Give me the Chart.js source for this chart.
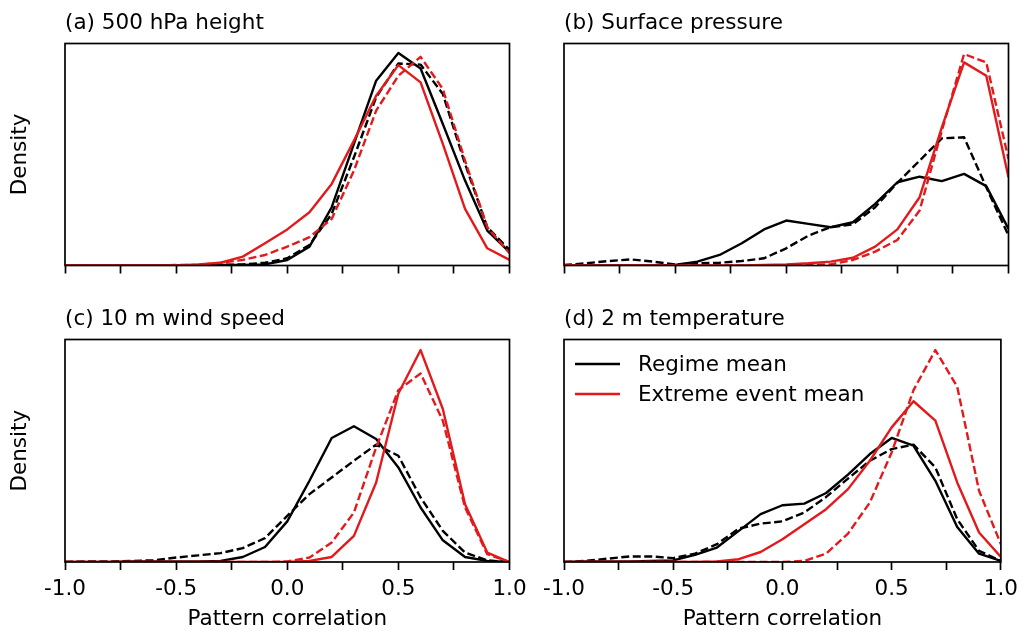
<!DOCTYPE html>
<html>
<head>
<meta charset="utf-8">
<script src="https://cdn.jsdelivr.net/npm/chart.js@4/dist/chart.umd.min.js"></script>
<style>
body { margin: 0; background: #fff; }
#wrap { position: relative; width: 1025px; height: 633px; }
#wrap canvas { position: absolute; left: 0; top: 0; }
</style>
</head>
<body>
<div id="wrap">
  <canvas id="panelA" width="1025" height="633"></canvas>
  <canvas id="panelB" width="1025" height="633"></canvas>
  <canvas id="panelC" width="1025" height="633"></canvas>
  <canvas id="panelD" width="1025" height="633"></canvas>
</div>
<script>
// pattern correlation bins
const corr = [-1.0, -0.9, -0.8, -0.7, -0.6, -0.5, -0.4, -0.3, -0.2, -0.1, 0.0,
              0.1, 0.2, 0.3, 0.4, 0.5, 0.6, 0.7, 0.8, 0.9, 1.0];
const xTicks = [-1.0, -0.5, 0.0, 0.5, 1.0];

// (a) 500 hPa height
const regimeA      = [0, 0, 0, 0, 0, 0, 0, 0.01, 0.01, 0.02, 0.10, 0.34, 1.05, 2.19, 3.33, 3.83, 3.55, 2.55, 1.53, 0.63, 0.24];
const regimeDashA  = [0, 0, 0, 0, 0, 0, 0, 0.01, 0.02, 0.05, 0.13, 0.37, 0.93, 1.95, 3.03, 3.64, 3.62, 3.09, 1.83, 0.69, 0.28];
const extremeA     = [0, 0, 0, 0, 0, 0, 0.02, 0.05, 0.16, 0.40, 0.65, 0.96, 1.47, 2.25, 3.06, 3.61, 3.30, 2.19, 1.02, 0.31, 0.10];
const extremeDashA = [0, 0, 0, 0, 0, 0.01, 0.01, 0.05, 0.10, 0.19, 0.34, 0.51, 0.84, 1.71, 2.79, 3.42, 3.76, 3.18, 1.89, 0.69, 0.22];

// (b) Surface pressure
const regimeB      = [0, 0, 0, 0, 0, 0.01, 0.07, 0.19, 0.40, 0.65, 0.81, 0.75, 0.69, 0.78, 1.11, 1.50, 1.60, 1.52, 1.65, 1.43, 0.66];
const regimeDashB  = [0.01, 0.04, 0.08, 0.11, 0.07, 0.02, 0.04, 0.05, 0.08, 0.13, 0.31, 0.54, 0.69, 0.74, 1.05, 1.49, 1.89, 2.29, 2.31, 1.41, 0.54];
const extremeB     = [0, 0, 0, 0, 0, 0, 0, 0, 0, 0.01, 0.02, 0.04, 0.07, 0.14, 0.34, 0.65, 1.23, 2.49, 3.66, 3.42, 1.59];
const extremeDashB = [0, 0, 0, 0, 0, 0, 0, 0, 0, 0, 0, 0.01, 0.02, 0.10, 0.25, 0.46, 0.99, 2.43, 3.81, 3.66, 1.92];

// (c) 10 m wind speed
const regimeC      = [0, 0, 0, 0.01, 0.01, 0.01, 0.01, 0.02, 0.09, 0.27, 0.73, 1.46, 2.23, 2.44, 2.21, 1.70, 0.98, 0.39, 0.09, 0.02, 0];
const regimeDashC  = [0, 0.01, 0.01, 0.02, 0.03, 0.08, 0.12, 0.16, 0.25, 0.43, 0.83, 1.22, 1.52, 1.82, 2.11, 1.91, 1.16, 0.56, 0.17, 0.03, 0];
const extremeC     = [0, 0, 0, 0, 0, 0, 0, 0, 0, 0, 0, 0.02, 0.09, 0.47, 1.43, 3.03, 3.81, 2.75, 1.04, 0.17, 0];
const extremeDashC = [0, 0, 0, 0, 0, 0, 0, 0, 0, 0, 0.01, 0.08, 0.35, 0.89, 2.06, 3.09, 3.39, 2.54, 0.98, 0.14, 0];

// (d) 2 m temperature
const regimeD      = [0, 0.01, 0.01, 0.01, 0.02, 0.03, 0.13, 0.26, 0.56, 0.86, 1.02, 1.05, 1.24, 1.57, 1.94, 2.23, 2.09, 1.46, 0.63, 0.15, 0.02];
const regimeDashD  = [0, 0.02, 0.06, 0.10, 0.10, 0.07, 0.15, 0.32, 0.60, 0.69, 0.73, 0.89, 1.17, 1.50, 1.82, 2.03, 2.11, 1.70, 0.77, 0.20, 0.02];
const extremeD     = [0, 0, 0, 0, 0, 0, 0, 0.01, 0.05, 0.18, 0.41, 0.68, 0.95, 1.31, 1.82, 2.42, 2.89, 2.54, 1.43, 0.53, 0.09];
const extremeDashD = [0, 0, 0, 0, 0, 0, 0, 0, 0, 0, 0, 0.02, 0.15, 0.51, 1.07, 1.97, 3.09, 3.81, 3.15, 1.28, 0.32];

const RED = '#e31a1c';
const FONT = 'DejaVu Sans';
const FS = 21.5;
const LW = 2.4;

Chart.defaults.color = '#000';
Chart.defaults.font.family = FONT;
Chart.defaults.font.size = FS;

const toPts = arr => arr.map((v, i) => ({ x: corr[i], y: v }));

function line(label, data, color, dashed) {
    return {
        label: label,
        data: toPts(data),
        borderColor: color,
        backgroundColor: color,
        borderWidth: LW,
        borderDash: dashed ? [8, 3.5] : [],
        borderCapStyle: 'butt',
        borderJoinStyle: 'round',
        pointRadius: 0,
        tension: 0,
        fill: false
    };
}

// frame, panel title and (optional) legend
const decor = {
    id: 'decor',
    afterDraw(chart, args, opts) {
        const a = chart.chartArea, c = chart.ctx;
        c.save();
        c.strokeStyle = '#000';
        c.lineWidth = 1.7;
        c.setLineDash([]);
        c.strokeRect(a.left, a.top, a.right - a.left, a.bottom - a.top);
        c.fillStyle = '#000';
        c.font = FS + 'px "' + FONT + '"';
        c.textAlign = 'left';
        c.textBaseline = 'alphabetic';
        c.fillText(opts.title, a.left, a.top - 14.5);
        if (opts.legend) {
            const items = chart.data.datasets.filter(d => d.borderDash.length === 0).reverse();
            items.forEach((d, i) => {
                const y = a.top + 24.5 + i * 30;
                c.strokeStyle = d.borderColor;
                c.lineWidth = LW;
                c.beginPath();
                c.moveTo(a.left + 11, y);
                c.lineTo(a.left + 56, y);
                c.stroke();
                c.fillText(d.label, a.left + 74, y + 7);
            });
        }
        c.restore();
    }
};

function makePanel(id, title, s, box, o) {
    const yW = o.yTitle ? 65 : 0;
    const xH = o.xLabels ? 70 : 10;
    new Chart(document.getElementById(id), {
        type: 'line',
        data: {
            datasets: [
                line('Extreme event mean (dashed)', s[3], RED, true),
                line('Extreme event mean', s[2], RED, false),
                line('Regime mean (dashed)', s[1], '#000', true),
                line('Regime mean', s[0], '#000', false)
            ]
        },
        options: {
            responsive: false,
            animation: false,
            events: [],
            layout: {
                padding: {
                    left: box.left - yW,
                    top: box.top,
                    right: 1025 - box.right,
                    bottom: 633 - box.bottom - xH
                }
            },
            scales: {
                x: {
                    type: 'linear',
                    min: -1,
                    max: 1,
                    afterFit: sc => { sc.height = xH; },
                    afterBuildTicks: sc => {
                        const t = [];
                        for (let i = 0; i < xTicks.length; i++) {
                            t.push({ value: xTicks[i] });
                            if (i < xTicks.length - 1) t.push({ value: (xTicks[i] + xTicks[i + 1]) / 2 });
                        }
                        sc.ticks = t;
                    },
                    ticks: {
                        autoSkip: false,
                        maxRotation: 0,
                        padding: 7,
                        color: '#000',
                        font: { size: FS },
                        callback: v => (o.xLabels && xTicks.some(t => Math.abs(t - v) < 1e-9)) ? v.toFixed(1) : ''
                    },
                    grid: {
                        drawOnChartArea: false,
                        drawTicks: true,
                        tickLength: 8,
                        tickWidth: 1.7,
                        tickColor: '#000',
                        color: '#000'
                    },
                    border: { display: false },
                    title: {
                        display: o.xLabels,
                        text: 'Pattern correlation',
                        color: '#000',
                        font: { size: FS },
                        padding: { top: 0, bottom: 0 }
                    }
                },
                y: {
                    display: o.yTitle,
                    min: 0,
                    max: 4,
                    afterFit: sc => { sc.width = yW; },
                    ticks: { display: false },
                    grid: { display: false, drawTicks: false },
                    border: { display: false },
                    title: {
                        display: true,
                        text: 'Density',
                        color: '#000',
                        font: { size: FS },
                        padding: { top: 8, bottom: 0 }
                    }
                }
            },
            plugins: {
                legend: { display: false },
                tooltip: { enabled: false },
                decor: { title: title, legend: !!o.legend }
            }
        },
        plugins: [decor]
    });
}

makePanel('panelA', '(a) 500 hPa height',
    [regimeA, regimeDashA, extremeA, extremeDashA],
    { left: 65, top: 43.5, right: 509.5, bottom: 265.5 }, { yTitle: true, xLabels: false });
makePanel('panelB', '(b) Surface pressure',
    [regimeB, regimeDashB, extremeB, extremeDashB],
    { left: 564, top: 43.5, right: 1008.5, bottom: 265.5 }, { yTitle: false, xLabels: false });
makePanel('panelC', '(c) 10 m wind speed',
    [regimeC, regimeDashC, extremeC, extremeDashC],
    { left: 65, top: 339.5, right: 509.5, bottom: 562 }, { yTitle: true, xLabels: true });
makePanel('panelD', '(d) 2 m temperature',
    [regimeD, regimeDashD, extremeD, extremeDashD],
    { left: 564, top: 339.5, right: 1008.5, bottom: 562 }, { yTitle: false, xLabels: true, legend: true });
</script>
</body>
</html>
